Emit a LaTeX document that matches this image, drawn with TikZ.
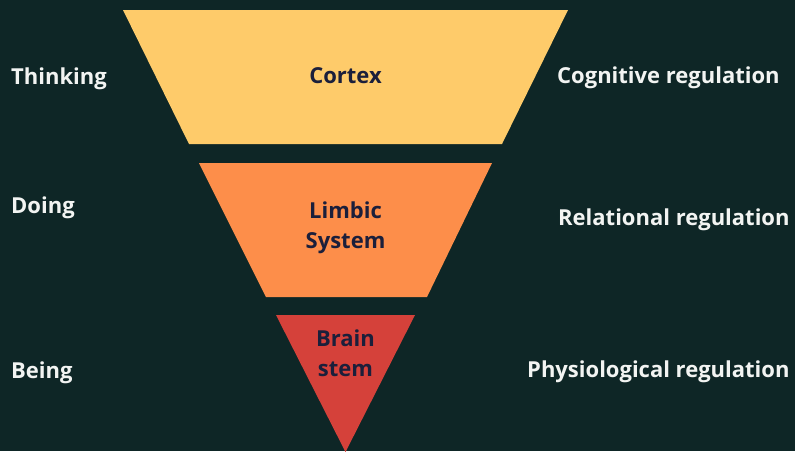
\documentclass[tikz,border=0pt]{standalone}
\usepackage{fontspec}
\setmainfont{Open Sans}
\usetikzlibrary{positioning}

\definecolor{bgteal}{HTML}{0E2626}
\definecolor{cortexyellow}{HTML}{FECB6A}
\definecolor{limbicorange}{HTML}{FD8E4A}
\definecolor{stemred}{HTML}{D5413A}
\definecolor{labelnavy}{HTML}{1B1F3B}
\definecolor{sidewhite}{HTML}{F2F4F2}

\begin{document}
\begin{tikzpicture}[x=1pt,y=-1pt,
    layer/.style={inner sep=0pt,text=labelnavy,font=\bfseries\fontsize{22}{30}\selectfont,align=center},
    side/.style={inner sep=0pt,anchor=base west,text=sidewhite,font=\bfseries\fontsize{22}{26}\selectfont}]
    \fill[bgteal] (0, 0) rectangle (795, 451);
    \useasboundingbox (0, 0) rectangle (795, 451);

    \fill[cortexyellow] (123, 10) -- (568, 10) -- (502, 144) -- (189, 144) -- cycle;
    \fill[limbicorange] (199, 163) -- (492, 163) -- (427, 297) -- (266, 297) -- cycle;
    \fill[stemred] (276, 315) -- (415, 315) -- (345.5, 452) -- cycle;

    \node[layer,anchor=base] (cortex) at (345.5, 83) {Cortex};
    \node[layer] (limbic) at (345.5, 228) {Limbic\\System};
    \node[layer] (stem) at (345.5, 353) {Brain\\stem};

    \node[side] (thinking) at (11, 84) {Thinking};
    \node[side] (doing) at (11, 213) {Doing};
    \node[side] (being) at (11, 378) {Being};

    \node[side] (cognitive) at (557, 83) {Cognitive regulation};
    \node[side] (relational) at (558, 225) {Relational regulation};
    \node[side] (physiological) at (527, 377) {Physiological regulation};
\end{tikzpicture}
\end{document}
